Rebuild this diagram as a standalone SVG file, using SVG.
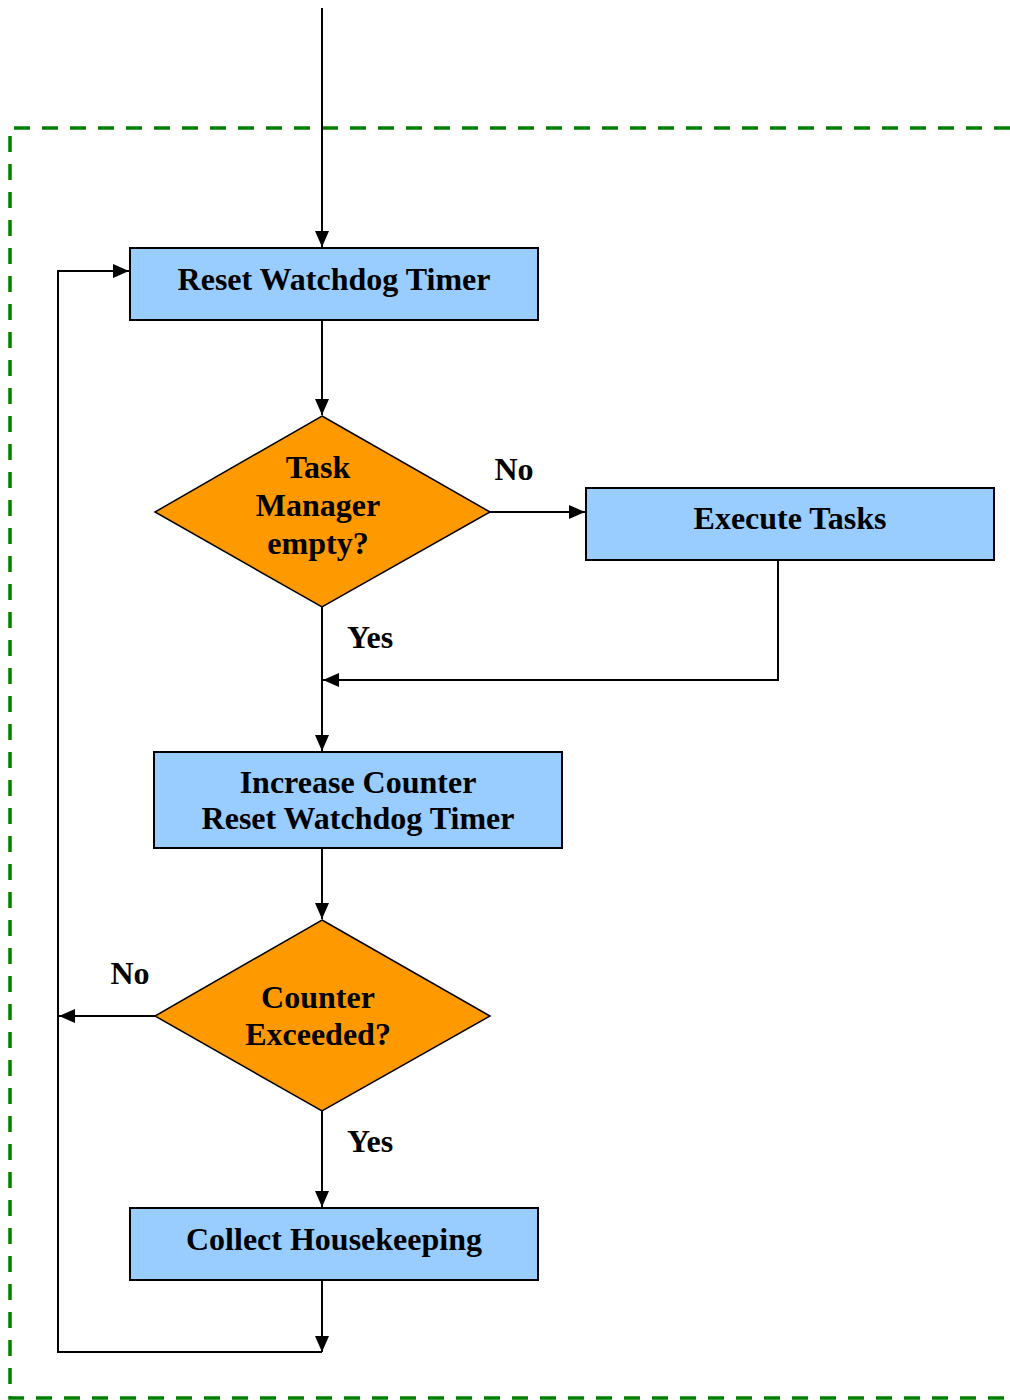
<svg xmlns="http://www.w3.org/2000/svg" width="1010" height="1400" viewBox="0 0 1010 1400">
  <style>
    .box { fill: #99CCFF; stroke: #000; stroke-width: 2; }
    .dec { fill: #FF9900; stroke: #000; stroke-width: 1.5; }
    .lbl { font-family: "Liberation Serif", "Times New Roman", serif; font-weight: bold; font-size: 32px; fill: #000; text-anchor: middle; }
    .edge { fill: none; stroke: #000; stroke-width: 2; }
    .arr { marker-end: url(#head); }
    .frame { fill: none; stroke: #008000; stroke-width: 3.5; stroke-dasharray: 16 12; }
  </style>
  <defs>
    <marker id="head" viewBox="0 0 16 14" refX="16" refY="7" markerWidth="16" markerHeight="14" markerUnits="userSpaceOnUse" orient="auto">
      <path d="M0,0 L16,7 L0,14 z" fill="#000"/>
    </marker>
  </defs>

  <!-- dashed boundary -->
  <path class="frame" d="M1010,128 H10 V1398 H1010"/>

  <!-- connectors -->
  <g id="connectors">
    <path class="edge arr" d="M322,8 V247"/>
    <path class="edge arr" d="M322,320 V415"/>
    <path class="edge arr" d="M490,512 H585"/>
    <path class="edge" d="M322,607 V680"/>
    <path class="edge arr" d="M778,560 V680 H323"/>
    <path class="edge arr" d="M322,680 V751"/>
    <path class="edge arr" d="M322,848 V919"/>
    <path class="edge arr" d="M155,1016 H59"/>
    <path class="edge arr" d="M322,1111 V1207"/>
    <path class="edge arr" d="M322,1280 V1352"/>
    <path class="edge arr" d="M322,1352 H58 V271 H129"/>
    <text class="lbl" x="514" y="480">No</text>
    <text class="lbl" x="370" y="648">Yes</text>
    <text class="lbl" x="130" y="984">No</text>
    <text class="lbl" x="370" y="1152">Yes</text>
  </g>

  <g id="reset-watchdog">
    <rect class="box" x="130" y="248" width="408" height="72"/>
    <text class="lbl" x="334" y="290">Reset Watchdog Timer</text>
  </g>

  <g id="task-manager-empty">
    <polygon class="dec" points="322,416 490,512 322,607 155,512"/>
    <text class="lbl" x="318" y="478">Task</text>
    <text class="lbl" x="318" y="516">Manager</text>
    <text class="lbl" x="318" y="554">empty?</text>
  </g>

  <g id="execute-tasks">
    <rect class="box" x="586" y="488" width="408" height="72"/>
    <text class="lbl" x="790" y="529">Execute Tasks</text>
  </g>

  <g id="increase-counter">
    <rect class="box" x="154" y="752" width="408" height="96"/>
    <text class="lbl" x="358" y="793">Increase Counter</text>
    <text class="lbl" x="358" y="829">Reset Watchdog Timer</text>
  </g>

  <g id="counter-exceeded">
    <polygon class="dec" points="322,920 490,1016 322,1111 155,1016"/>
    <text class="lbl" x="318" y="1008">Counter</text>
    <text class="lbl" x="318" y="1045">Exceeded?</text>
  </g>

  <g id="collect-housekeeping">
    <rect class="box" x="130" y="1208" width="408" height="72"/>
    <text class="lbl" x="334" y="1250">Collect Housekeeping</text>
  </g>
</svg>
